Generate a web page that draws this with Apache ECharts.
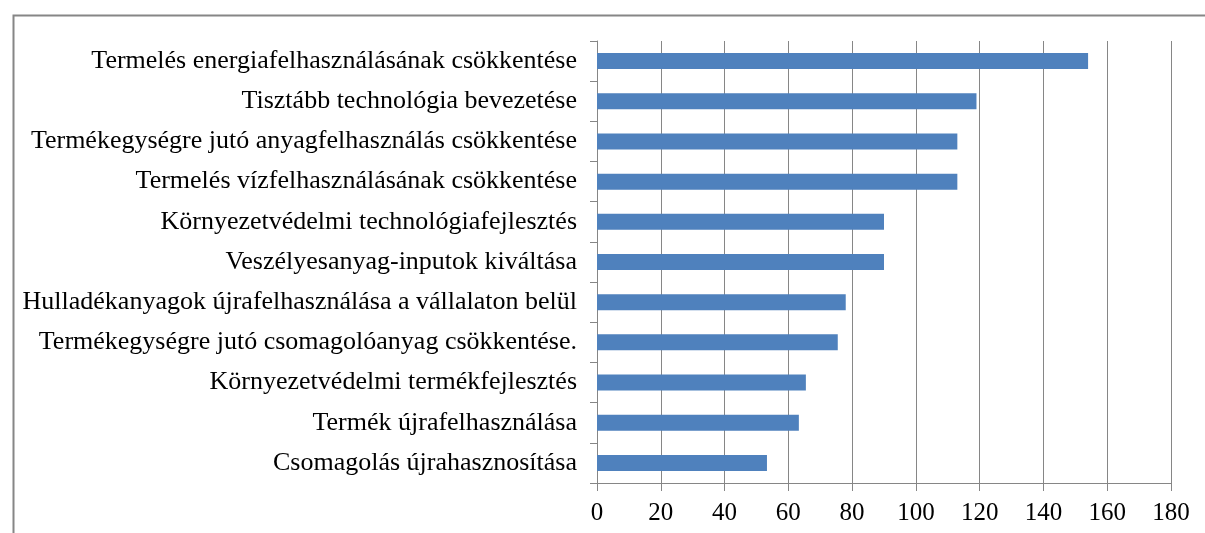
<!DOCTYPE html>
<html>
<head>
<meta charset="utf-8">
<script src="https://cdn.jsdelivr.net/npm/echarts@6/dist/echarts.min.js"></script>
<style>
  html, body { margin: 0; padding: 0; background: #fff; }
  #chart { width: 1205px; height: 533px; }
</style>
</head>
<body>
<div id="chart"></div>
<script>
// kategóriák alulról felfelé (a category tengely alulról rajzol)
const categories = [
    'Csomagolás újrahasznosítása',
    'Termék újrafelhasználása',
    'Környezetvédelmi termékfejlesztés',
    'Termékegységre jutó csomagolóanyag csökkentése.',
    'Hulladékanyagok újrafelhasználása a vállalaton belül',
    'Veszélyesanyag-inputok kiváltása',
    'Környezetvédelmi technológiafejlesztés',
    'Termelés vízfelhasználásának csökkentése',
    'Termékegységre jutó anyagfelhasználás csökkentése',
    'Tisztább technológia bevezetése',
    'Termelés energiafelhasználásának csökkentése'
];
const values = [53.3, 63.3, 65.5, 75.5, 78, 90, 90, 113, 113, 119, 154];
const xTicks = [0, 20, 40, 60, 80, 100, 120, 140, 160, 180];

const gray = '#868686';
const font = '"Liberation Serif", "Times New Roman", serif';

const chart = echarts.init(document.getElementById('chart'));

const option = {
    animation: false,
    backgroundColor: '#fff',
    graphic: [{
        type: 'rect',
        left: 11,
        top: 13,
        shape: { width: 1400, height: 800 },
        style: { fill: 'none', stroke: gray, lineWidth: 2 }
    }],
    grid: { left: 597, right: 34, top: 41, bottom: 50, containLabel: false },
    xAxis: {
        type: 'value',
        min: xTicks[0],
        max: xTicks[xTicks.length - 1],
        interval: 20,
        axisLine: { show: true, lineStyle: { color: gray, width: 1 } },
        axisTick: { show: true, length: 8, lineStyle: { color: gray } },
        splitLine: { show: true, lineStyle: { color: gray, width: 1 } },
        axisLabel: { color: '#000', fontFamily: font, fontSize: 25, margin: 18 }
    },
    yAxis: {
        type: 'category',
        data: categories,
        axisLine: { show: true, lineStyle: { color: gray, width: 1 } },
        axisTick: { show: true, length: 7, inside: false, lineStyle: { color: gray } },
        axisLabel: { color: '#000', fontFamily: font, fontSize: 26, margin: 20 }
    },
    series: [{
        type: 'bar',
        data: values,
        barWidth: 16,
        itemStyle: { color: '#4F81BD' }
    }]
};

chart.setOption(option);
</script>
</body>
</html>
